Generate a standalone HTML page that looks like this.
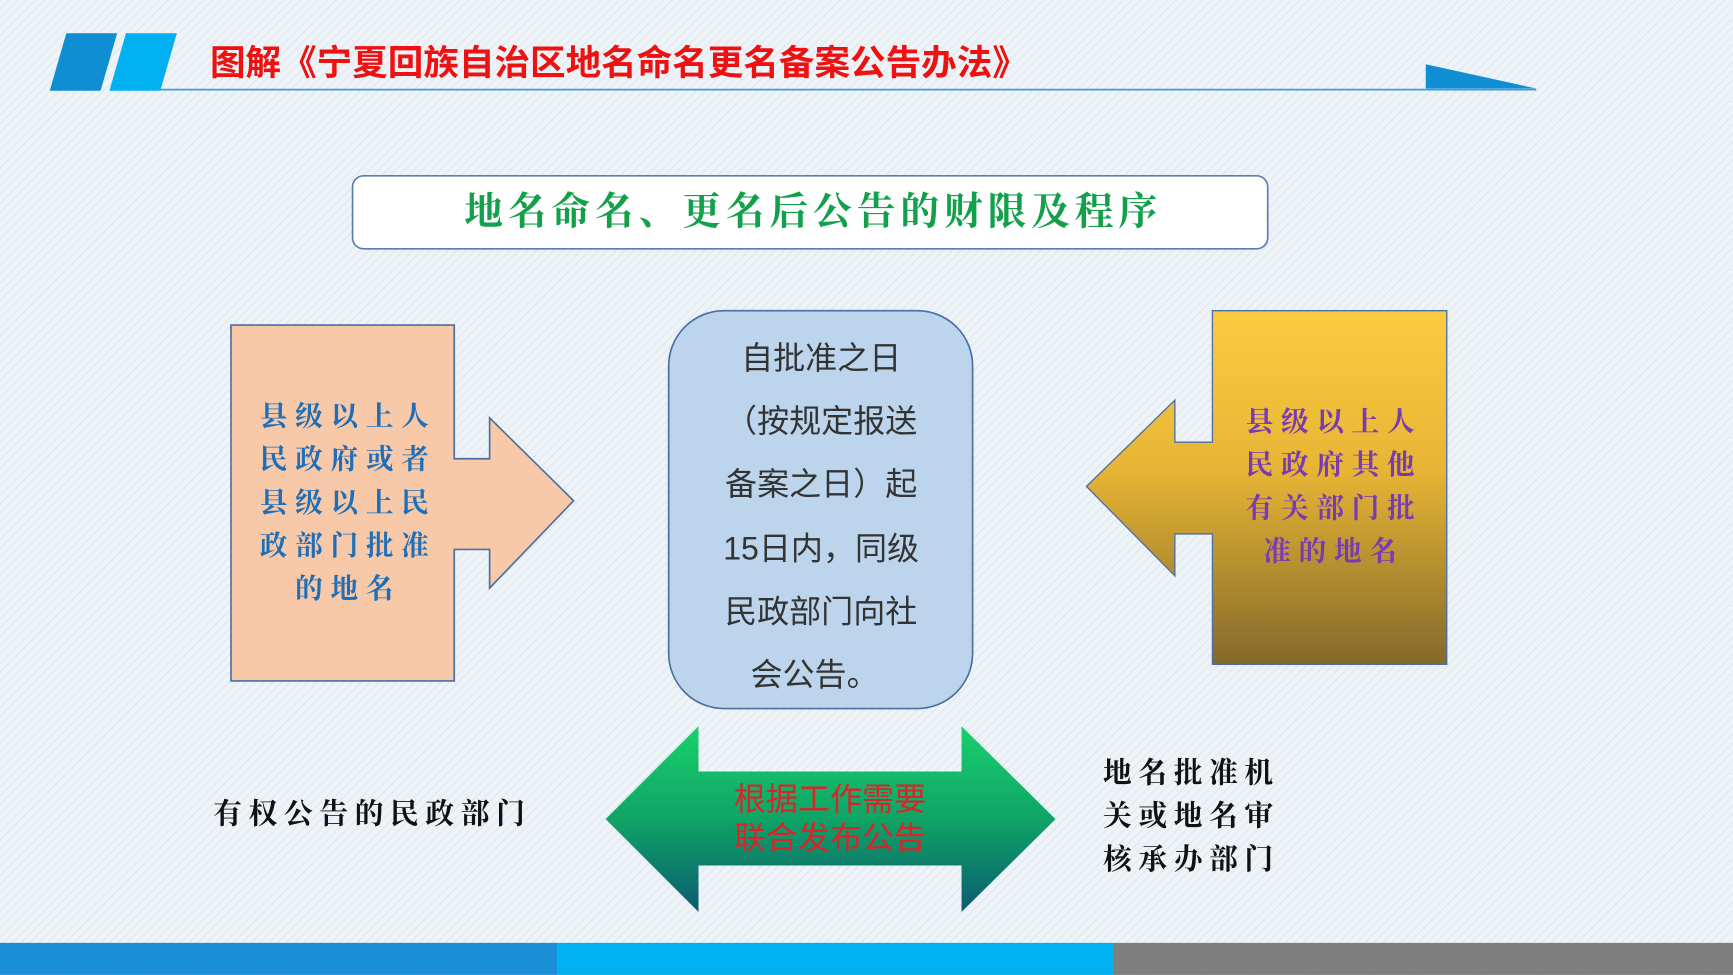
<!DOCTYPE html>
<html><head><meta charset="utf-8"><style>
html,body{margin:0;padding:0;width:1733px;height:975px;overflow:hidden;background:#eef3f7;}
svg{display:block}
.kai{font-family:"AR PL UKai CN","Noto Serif CJK SC","Liberation Serif",serif;}
.sans{font-family:"Liberation Sans","Noto Sans CJK SC",sans-serif;}
</style></head><body>
<svg width="1733" height="975" viewBox="0 0 1568 882" xmlns="http://www.w3.org/2000/svg">
<defs>
<linearGradient id="gy" x1="0" y1="0" x2="0" y2="1"><stop offset="0" stop-color="#fbcc41"/><stop offset="0.45" stop-color="#e7b535"/><stop offset="1" stop-color="#84692a"/></linearGradient>
<linearGradient id="gg" x1="0" y1="0" x2="0" y2="1"><stop offset="0" stop-color="#19d06c"/><stop offset="0.5" stop-color="#0fa466"/><stop offset="1" stop-color="#0b5a70"/></linearGradient>
<pattern id="pt" width="8" height="8" patternUnits="userSpaceOnUse"><path d="M0 8L8 0M-2 2L2 -2M6 10L10 6" stroke="#dfe7ee" stroke-width="1"/></pattern>
</defs>
<rect width="1568" height="882" fill="#eef3f7"/>
<rect width="1568" height="882" fill="url(#pt)"/>
<polygon points="60,30 106,30 91,82 45,82" fill="#0f8ed4"/>
<polygon points="114,30 160,30 145,82 99,82" fill="#00b0f0"/>
<line x1="140" y1="81" x2="1390" y2="81" stroke="#3a9fd8" stroke-width="1.5"/>
<polygon points="1290,58 1390,80 1290,80" fill="#0f8ed4"/>
<text x="190" y="68" class="sans" font-size="32" font-weight="bold" fill="#ee1111" textLength="740" lengthAdjust="spacingAndGlyphs">图解《宁夏回族自治区地名命名更名备案公告办法》</text>
<rect x="319" y="159" width="828" height="66" rx="10" fill="#fff" stroke="#5a7fae" stroke-width="1.5"/>
<text x="420" y="203" class="kai" font-size="35" font-weight="bold" fill="#12a04a" textLength="627" lengthAdjust="spacing">地名命名、更名后公告的财限及程序</text>
<polygon points="209,294 411,294 411,415 443,415 443,378 519,453 443,532 443,497 411,497 411,616 209,616" fill="#f8c9a8" stroke="#4a6fa5" stroke-width="1.5"/>
<g class="kai" font-size="25" font-weight="bold" fill="#1f6fb8" text-anchor="middle" letter-spacing="7">
<text x="315" y="385">县级以上人</text><text x="315" y="424">民政府或者</text><text x="315" y="463">县级以上民</text><text x="315" y="502">政部门批准</text><text x="315" y="541">的地名</text></g>
<rect x="605" y="281" width="275" height="360" rx="50" fill="#bcd5ec" stroke="#4a6fa5" stroke-width="1.5"/>
<g class="sans" font-size="29" fill="#333" text-anchor="middle">
<text x="743" y="334">自批准之日</text><text x="743" y="391">（按规定报送</text><text x="743" y="448">备案之日）起</text><text x="743" y="506">15日内，同级</text><text x="743" y="563">民政部门向社</text><text x="737" y="620">会公告。</text></g>
<polygon points="1097,281 1309,281 1309,601 1097,601 1097,483 1063,483 1063,521 983,440 1063,362 1063,400 1097,400" fill="url(#gy)" stroke="#4a6fa5" stroke-width="1.2"/>
<g class="kai" font-size="25" font-weight="bold" fill="#7a3ab0" text-anchor="middle" letter-spacing="7">
<text x="1207" y="390">县级以上人</text><text x="1207" y="429">民政府其他</text><text x="1207" y="468">有关部门批</text><text x="1207" y="507">准的地名</text></g>
<polygon points="548,741 632,657 632,698 870,698 870,657 955,741 870,825 870,783 632,783 632,825" fill="url(#gg)"/>
<g class="sans" font-size="29" fill="#d9242a" text-anchor="middle"><text x="751" y="733">根据工作需要</text><text x="751" y="768">联合发布公告</text></g>
<text x="193" y="745" class="kai" font-size="26" font-weight="bold" fill="#111" letter-spacing="6">有权公告的民政部门</text>
<g class="kai" font-size="26" font-weight="bold" fill="#111" letter-spacing="6"><text x="998" y="708">地名批准机</text><text x="998" y="747">关或地名审</text><text x="998" y="786">核承办部门</text></g>
<rect x="0" y="853" width="504" height="29" fill="#1a8fd8"/>
<rect x="504" y="853" width="503" height="29" fill="#00b0f0"/>
<rect x="1007" y="853" width="561" height="29" fill="#7f7f7f"/>
</svg>
</body></html>
